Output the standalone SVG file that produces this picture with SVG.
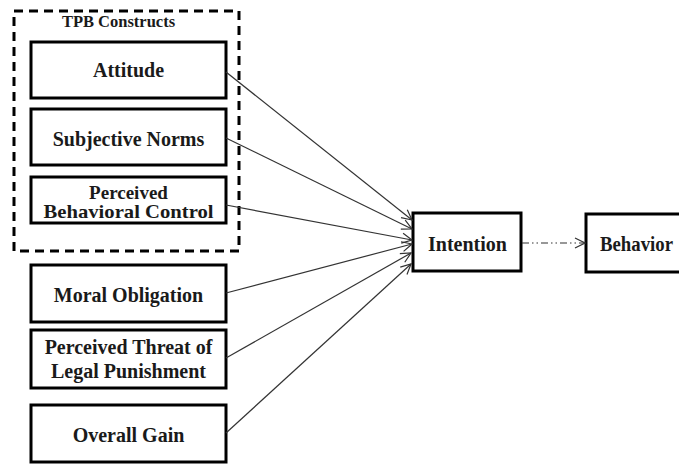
<svg xmlns="http://www.w3.org/2000/svg" width="679" height="464" viewBox="0 0 679 464">
<defs>
<style>
.box{fill:#fff;stroke:#000;stroke-width:3}
.t{font-family:"Liberation Serif","Times New Roman",serif;font-weight:bold;font-size:20px;fill:#1a1a1a;text-anchor:middle}
.c{stroke:#333;stroke-width:1.2;fill:none;marker-end:url(#ah)}
</style>
<marker id="ah" viewBox="0 0 12 12" refX="11" refY="6" markerWidth="12" markerHeight="12" markerUnits="userSpaceOnUse" orient="auto">
<path d="M1,1 L11,6 L1,11" fill="none" stroke="#333" stroke-width="1.2"/>
</marker>
</defs>
<rect width="679" height="464" fill="#fff"/>
<g id="tpb-group">
<rect x="14" y="11" width="225" height="240" fill="none" stroke="#000" stroke-width="3" stroke-dasharray="9,6"/>
<text x="118.5" y="27" class="t" style="font-size:16.5px">TPB Constructs</text>
</g>
<g id="attitude"><rect class="box" x="31" y="42" width="195" height="56"/><text class="t" x="128.5" y="77">Attitude</text></g>
<g id="subjective-norms"><rect class="box" x="31" y="109" width="195" height="56"/><text class="t" x="128.5" y="146">Subjective Norms</text></g>
<g id="pbc"><rect class="box" x="31" y="177" width="195" height="46"/><text class="t" x="128.5" y="198.5" style="font-size:19px">Perceived</text><text class="t" x="128.5" y="218" style="font-size:19px" textLength="170" lengthAdjust="spacingAndGlyphs">Behavioral Control</text></g>
<g id="moral-obligation"><rect class="box" x="31" y="265" width="195" height="57"/><text class="t" x="128.5" y="302">Moral Obligation</text></g>
<g id="threat"><rect class="box" x="31" y="330" width="195" height="58"/><text class="t" x="128.5" y="354">Perceived Threat of</text><text class="t" x="128.5" y="378">Legal Punishment</text></g>
<g id="overall-gain"><rect class="box" x="31" y="405" width="195" height="57"/><text class="t" x="128.5" y="442">Overall Gain</text></g>
<g id="intention"><rect class="box" x="413" y="213" width="108" height="58"/><text class="t" x="467.5" y="251">Intention</text></g>
<g id="behavior"><rect class="box" x="586" y="214" width="110" height="58"/><text class="t" x="600" y="251" style="text-anchor:start" textLength="73" lengthAdjust="spacingAndGlyphs">Behavior</text></g>
<g id="connectors">
<line class="c" x1="226" y1="72" x2="412" y2="220"/>
<line class="c" x1="226" y1="138" x2="412" y2="229"/>
<line class="c" x1="226" y1="205" x2="412" y2="240"/>
<line class="c" x1="226" y1="293" x2="412" y2="244"/>
<line class="c" x1="226" y1="358" x2="411" y2="253"/>
<line class="c" x1="226" y1="433" x2="411" y2="264"/>
<line class="c" x1="522" y1="243" x2="585" y2="243" stroke-dasharray="7,3,1.5,3,1.5,3"/>
</g>
</svg>
